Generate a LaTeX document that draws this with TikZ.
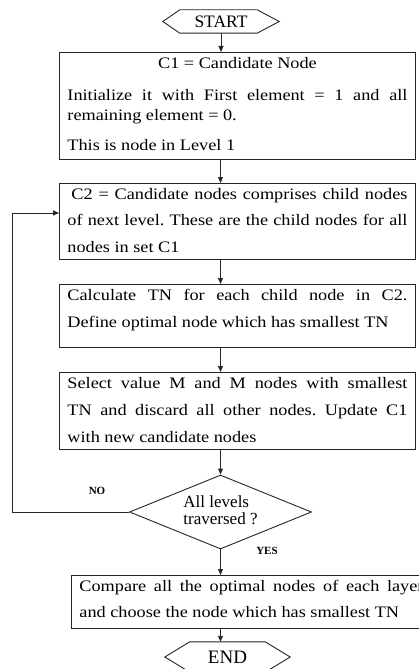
\documentclass[tikz,border=0pt]{standalone}
\usepackage{fontspec}
\setmainfont{Liberation Serif}
\newfontfamily\bodyfont{Liberation Serif}[FakeStretch=1.14]
\newfontfamily\plainfont{Liberation Serif}
\usetikzlibrary{arrows.meta,shapes.geometric}
\frenchspacing
\newcommand{\bxt}[3]{\parbox[c][#1][t]{#2}{\hyphenpenalty=10000\frenchspacing\rule{0pt}{16pt}#3}}
\tikzset{
  boxnode/.style={draw=black!85, line width=0.9pt, inner xsep=8pt, inner ysep=0pt, anchor=north west, font=\bodyfont},
  termnode/.style={inner sep=0pt, font=\plainfont},
  decnode/.style={draw=black!85, line width=0.9pt, diamond, aspect=2.46, minimum width=182pt, minimum height=74pt, inner sep=0pt, font=\plainfont\fontsize{17}{19}\selectfont},
  lbl/.style={inner sep=0pt, font=\plainfont\bfseries\fontsize{11}{12}\selectfont},
  arr/.style={draw=black!85, line width=0.9pt, -{Triangle[length=6pt,width=5pt]}},
  hexline/.style={draw=black!85, line width=0.9pt}
}
\begin{document}
\begin{tikzpicture}[x=1pt,y=1pt]
\useasboundingbox[fill=white] (0,0) rectangle (418,-669);
% START
\node[termnode, minimum width=116pt, minimum height=23pt] (st) at (221,-21.5) {\fontsize{17.5}{20}\selectfont START};
\draw[hexline] (st.west) -- ([xshift=17pt]st.north west) -- ([xshift=-22pt]st.north east) -- (st.east) -- ([xshift=-22pt]st.south east) -- ([xshift=17pt]st.south west) -- cycle;
% Box 1
\node[boxnode] (b1) at (59,-52) {\bxt{107pt}{340pt}{\fontsize{16}{20}\selectfont
  {\centering C1 = Candidate Node\par}\vspace{12pt}
  Initialize it with First element = 1 and all\linebreak remaining element = 0.\par\vspace{10pt}
  This is node in Level 1}};
% Box 2
\node[boxnode] (b2) at (59,-183) {\bxt{76pt}{340pt}{\fontsize{16}{26.5}\selectfont
  \hspace*{4pt}C2 = Candidate nodes comprises child nodes\linebreak of next level. These are the child nodes for all\linebreak nodes in set C1}};
% Box 3
\node[boxnode] (b3) at (59,-284) {\bxt{63pt}{340pt}{\fontsize{16}{27}\selectfont
  Calculate TN for each child node in C2.\linebreak Define optimal node which has smallest TN}};
% Box 4
\node[boxnode] (b4) at (59,-372) {\bxt{77pt}{340pt}{\fontsize{16}{27}\selectfont
  Select value M and M nodes with smallest\linebreak TN and discard all other nodes. Update C1\linebreak with new candidate nodes}};
% Decision
\node[decnode] (dec) at (220.5,-512) {\begin{tabular}{@{}l@{}}All levels\\[-2pt]traversed ?\end{tabular}};
% Box 5
\node[boxnode] (b5) at (71,-575) {\bxt{53pt}{344pt}{\fontsize{16}{26}\selectfont
  Compare all the optimal nodes of each layer\linebreak and choose the node which has smallest TN}};
% END
\node[termnode, minimum width=125pt, minimum height=30pt] (en) at (227.5,-657) {\fontsize{19}{21}\selectfont END};
\draw[hexline] (en.west) -- ([xshift=25pt]en.north west) -- ([xshift=-25pt]en.north east) -- (en.east) -- ([xshift=-25pt]en.south east) -- ([xshift=25pt]en.south west) -- cycle;
% labels
\node[lbl] (no) at (97,-491) {NO};
\node[lbl] (yes) at (267,-551) {YES};
% connectors
\draw[arr] (st.south) -- (st.south |- b1.north);
\draw[arr] (dec.north |- b1.south) -- (dec.north |- b2.north);
\draw[arr] (dec.north |- b2.south) -- (dec.north |- b3.north);
\draw[arr] (dec.north |- b3.south) -- (dec.north |- b4.north);
\draw[arr] (dec.north |- b4.south) -- (dec.north);
\draw[arr] (dec.south) -- (dec.south |- b5.north);
\draw[arr] (dec.south |- b5.south) -- (dec.south |- en.north);
\coordinate (lp) at (12,-213);
\draw[arr] (dec.west) -| (lp) -- (b2.west |- lp);
\end{tikzpicture}
\end{document}
